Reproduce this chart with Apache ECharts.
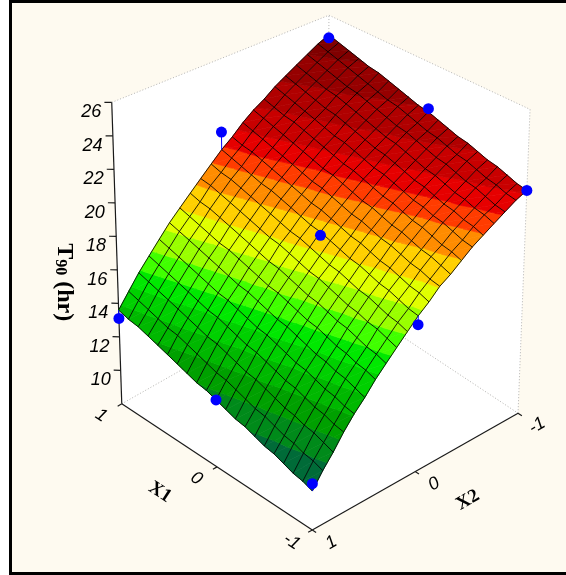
<!DOCTYPE html>
<html>
<head>
<meta charset="utf-8">
<title>T90 response surface</title>
<script src="https://cdn.jsdelivr.net/npm/echarts@6.0.0/dist/echarts.min.js"></script>
<style>
  html, body { margin: 0; padding: 0; background: #ffffff; }
  #chart { width: 566px; height: 575px; }
</style>
</head>
<body>
<div id="chart"></div>
<script>
// coded factor levels of the fitted surface grid
const x1Levels = [-1, -0.9, -0.8, -0.7, -0.6, -0.5, -0.4, -0.3, -0.2, -0.1, 0, 0.1, 0.2, 0.3, 0.4, 0.5, 0.6, 0.7, 0.8, 0.9, 1];
const x2Levels = [-1, -0.9, -0.8, -0.7, -0.6, -0.5, -0.4, -0.3, -0.2, -0.1, 0, 0.1, 0.2, 0.3, 0.4, 0.5, 0.6, 0.7, 0.8, 0.9, 1];

// fitted T90 (hr): one row per x1 level, columns follow x2Levels
const t90Surface = [
  [21.2, 20.9, 20.5, 20.1, 19.7, 19.3, 18.8, 18.3, 17.9, 17.3, 16.8, 16.2, 15.6, 15.0, 14.4, 13.7, 13.1, 12.4, 11.6, 10.9, 10.1],
  [21.3, 21.0, 20.6, 20.3, 19.9, 19.4, 19.0, 18.5, 18.0, 17.5, 16.9, 16.4, 15.8, 15.2, 14.6, 13.9, 13.2, 12.5, 11.8, 11.1, 10.3],
  [21.5, 21.2, 20.8, 20.4, 20.0, 19.6, 19.1, 18.7, 18.2, 17.6, 17.1, 16.5, 16.0, 15.3, 14.7, 14.1, 13.4, 12.7, 12.0, 11.2, 10.4],
  [21.7, 21.3, 21.0, 20.6, 20.2, 19.8, 19.3, 18.8, 18.3, 17.8, 17.3, 16.7, 16.1, 15.5, 14.9, 14.2, 13.5, 12.8, 12.1, 11.4, 10.6],
  [21.8, 21.5, 21.1, 20.7, 20.3, 19.9, 19.5, 19.0, 18.5, 18.0, 17.4, 16.9, 16.3, 15.7, 15.0, 14.4, 13.7, 13.0, 12.3, 11.5, 10.8],
  [22.0, 21.7, 21.3, 20.9, 20.5, 20.1, 19.6, 19.2, 18.7, 18.1, 17.6, 17.0, 16.4, 15.8, 15.2, 14.5, 13.9, 13.2, 12.4, 11.7, 10.9],
  [22.2, 21.8, 21.5, 21.1, 20.7, 20.2, 19.8, 19.3, 18.8, 18.3, 17.8, 17.2, 16.6, 16.0, 15.4, 14.7, 14.0, 13.3, 12.6, 11.9, 11.1],
  [22.3, 22.0, 21.6, 21.2, 20.8, 20.4, 20.0, 19.5, 19.0, 18.5, 17.9, 17.4, 16.8, 16.2, 15.5, 14.9, 14.2, 13.5, 12.8, 12.0, 11.3],
  [22.5, 22.2, 21.8, 21.4, 21.0, 20.6, 20.1, 19.7, 19.2, 18.6, 18.1, 17.5, 17.0, 16.3, 15.7, 15.1, 14.4, 13.7, 13.0, 12.2, 11.4],
  [22.7, 22.3, 22.0, 21.6, 21.2, 20.8, 20.3, 19.8, 19.3, 18.8, 18.3, 17.7, 17.1, 16.5, 15.9, 15.2, 14.6, 13.9, 13.1, 12.4, 11.6],
  [22.9, 22.5, 22.2, 21.8, 21.4, 20.9, 20.5, 20.0, 19.5, 19.0, 18.5, 17.9, 17.3, 16.7, 16.1, 15.4, 14.7, 14.0, 13.3, 12.6, 11.8],
  [23.0, 22.7, 22.3, 21.9, 21.5, 21.1, 20.7, 20.2, 19.7, 19.2, 18.6, 18.1, 17.5, 16.9, 16.2, 15.6, 14.9, 14.2, 13.5, 12.7, 12.0],
  [23.2, 22.9, 22.5, 22.1, 21.7, 21.3, 20.8, 20.4, 19.9, 19.3, 18.8, 18.2, 17.7, 17.0, 16.4, 15.8, 15.1, 14.4, 13.7, 12.9, 12.1],
  [23.4, 23.0, 22.7, 22.3, 21.9, 21.5, 21.0, 20.5, 20.0, 19.5, 19.0, 18.4, 17.8, 17.2, 16.6, 15.9, 15.3, 14.6, 13.8, 13.1, 12.3],
  [23.6, 23.2, 22.9, 22.5, 22.1, 21.6, 21.2, 20.7, 20.2, 19.7, 19.2, 18.6, 18.0, 17.4, 16.8, 16.1, 15.4, 14.7, 14.0, 13.3, 12.5],
  [23.8, 23.4, 23.1, 22.7, 22.3, 21.8, 21.4, 20.9, 20.4, 19.9, 19.4, 18.8, 18.2, 17.6, 17.0, 16.3, 15.6, 14.9, 14.2, 13.5, 12.7],
  [23.9, 23.6, 23.2, 22.9, 22.4, 22.0, 21.6, 21.1, 20.6, 20.1, 19.5, 19.0, 18.4, 17.8, 17.1, 16.5, 15.8, 15.1, 14.4, 13.6, 12.9],
  [24.1, 23.8, 23.4, 23.0, 22.6, 22.2, 21.8, 21.3, 20.8, 20.3, 19.7, 19.2, 18.6, 18.0, 17.3, 16.7, 16.0, 15.3, 14.6, 13.8, 13.1],
  [24.3, 24.0, 23.6, 23.2, 22.8, 22.4, 21.9, 21.5, 21.0, 20.5, 19.9, 19.4, 18.8, 18.2, 17.5, 16.9, 16.2, 15.5, 14.8, 14.0, 13.3],
  [24.5, 24.2, 23.8, 23.4, 23.0, 22.6, 22.1, 21.7, 21.2, 20.6, 20.1, 19.5, 19.0, 18.3, 17.7, 17.1, 16.4, 15.7, 15.0, 14.2, 13.4],
  [24.7, 24.4, 24.0, 23.6, 23.2, 22.8, 22.3, 21.9, 21.4, 20.8, 20.3, 19.7, 19.1, 18.5, 17.9, 17.3, 16.6, 15.9, 15.2, 14.4, 13.6]
];

// measured design points
const designX1 = [-1, 0, 1, -1, 0, 1, -1, 0, 1];
const designX2 = [1, 1, 1, 0, 0, 0, -1, -1, -1];
const t90Measured = [10.5, 11.8, 13.1, 16.3, 18.3, 21.4, 21.2, 23.1, 24.5];

const zTicks = [10, 12, 14, 16, 18, 20, 22, 24, 26];
const x1Ticks = [-1, 0, 1];
const x2Ticks = [-1, 0, 1];

// contour levels and their fill colours
const levelBreaks = [11.2, 12.1, 13.0, 13.8, 14.6, 15.3, 16.1, 17.0, 17.85, 18.85, 19.75, 20.4, 21.1, 22.0, 23.0, 24.0];
const levelColors = ['#006b38', '#008a1a', '#00a000', '#00b800', '#00d000', '#00e800', '#40ff00', '#99ff00',
  '#e0ff00', '#ffd000', '#ff8c00', '#ff3c00', '#e60000', '#c80000', '#b00000', '#960000', '#800000'];

// view: azimuth of the box and the floor / ceiling planes of the projection
const view = {
  azimuth: 47.2,
  zMin: 8,
  zMax: 26,
  floor: { cx: 319.9, cy: 408.5, scale: 140.2, tilt: 37.8 },
  top: { cx: 320.9, cy: 105.9, scale: 148.0, tilt: 25.7 }
};

const rad = Math.PI / 180;
const cosB = Math.cos(view.azimuth * rad);
const sinB = Math.sin(view.azimuth * rad);

function planeAt(plane, x1, x2) {
  const lean = Math.sin(plane.tilt * rad);
  return [
    plane.cx - plane.scale * (x1 * cosB + x2 * sinB),
    plane.cy + plane.scale * lean * (x2 * cosB - x1 * sinB)
  ];
}

function project(x1, x2, z) {
  const t = (z - view.zMin) / (view.zMax - view.zMin);
  const a = planeAt(view.floor, x1, x2);
  const b = planeAt(view.top, x1, x2);
  return [a[0] + (b[0] - a[0]) * t, a[1] + (b[1] - a[1]) * t];
}

function depthOf(x1, x2) {
  return x2 * cosB - x1 * sinB;
}

function clipAt(poly, level, keepAbove) {
  const out = [];
  for (let k = 0; k < poly.length; k++) {
    const a = poly[k];
    const b = poly[(k + 1) % poly.length];
    const inA = keepAbove ? a[2] >= level : a[2] <= level;
    const inB = keepAbove ? b[2] >= level : b[2] <= level;
    if (inA) out.push(a);
    if (inA !== inB) {
      const s = (level - a[2]) / (b[2] - a[2]);
      out.push([a[0] + (b[0] - a[0]) * s, a[1] + (b[1] - a[1]) * s, level]);
    }
  }
  return out;
}

function bandPieces(tri) {
  const zs = tri.map(p => p[2]);
  const lo = Math.min.apply(null, zs);
  const hi = Math.max.apply(null, zs);
  const pieces = [];
  for (let k = 0; k < levelColors.length; k++) {
    const from = k === 0 ? -Infinity : levelBreaks[k - 1];
    const to = k === levelBreaks.length ? Infinity : levelBreaks[k];
    if (hi < from || lo > to) continue;
    let poly = tri;
    if (from > -Infinity) poly = clipAt(poly, from, true);
    if (poly.length >= 3 && to < Infinity) poly = clipAt(poly, to, false);
    if (poly.length >= 3) pieces.push({ poly, color: levelColors[k] });
  }
  return pieces;
}

const cells = [];
for (let i = 0; i < x1Levels.length - 1; i++) {
  for (let j = 0; j < x2Levels.length - 1; j++) {
    const d = depthOf((x1Levels[i] + x1Levels[i + 1]) / 2, (x2Levels[j] + x2Levels[j + 1]) / 2);
    cells.push([i, j, d]);
  }
}
cells.sort((a, b) => a[2] - b[2]);

const meshLines = [];
x1Levels.forEach((v, i) => meshLines.push([0, i]));
x2Levels.forEach((v, j) => meshLines.push([1, j]));

const labelFont = 'italic 18px "Liberation Sans", Arial, sans-serif';
const titleFont = 'bold 19px "Liberation Serif", "Times New Roman", serif';

function renderFrame(params, api) {
  const pt = (a, b, c) => api.coord(project(a, b, c));
  const lo = view.zMin, hi = view.zMax;
  const xa = x1Ticks[0], xb = x1Ticks[x1Ticks.length - 1];
  const ya = x2Ticks[0], yb = x2Ticks[x2Ticks.length - 1];
  const wall = pts => ({
    type: 'polygon',
    shape: { points: pts.map(p => pt(p[0], p[1], p[2])) },
    style: { fill: '#ffffff' }
  });
  const edge = (p, q, solid) => {
    const a = pt(p[0], p[1], p[2]);
    const b = pt(q[0], q[1], q[2]);
    return {
      type: 'line',
      shape: { x1: a[0], y1: a[1], x2: b[0], y2: b[1] },
      style: solid ? { stroke: '#1a1a1a', lineWidth: 1.2 } : { stroke: '#b4b4b4', lineWidth: 1, lineDash: [1, 2] }
    };
  };
  const L = [xb, yb], F = [xa, yb], R = [xa, ya], B = [xb, ya];
  const children = [
    wall([[L[0], L[1], lo], [F[0], F[1], lo], [R[0], R[1], lo], [B[0], B[1], lo]]),
    wall([[L[0], L[1], lo], [B[0], B[1], lo], [B[0], B[1], hi], [L[0], L[1], hi]]),
    wall([[B[0], B[1], lo], [R[0], R[1], lo], [R[0], R[1], hi], [B[0], B[1], hi]]),
    edge([L[0], L[1], lo], [B[0], B[1], lo]),
    edge([B[0], B[1], lo], [R[0], R[1], lo]),
    edge([L[0], L[1], hi], [B[0], B[1], hi]),
    edge([B[0], B[1], hi], [R[0], R[1], hi]),
    edge([B[0], B[1], lo], [B[0], B[1], hi]),
    edge([R[0], R[1], lo], [R[0], R[1], hi]),
    edge([L[0], L[1], lo], [L[0], L[1], hi], true),
    edge([L[0], L[1], lo], [F[0], F[1], lo], true),
    edge([F[0], F[1], lo], [R[0], R[1], lo], true)
  ];
  zTicks.forEach(z => {
    children.push(edge([xb, yb, z], [xb + 0.035, yb + 0.035, z], true));
    const p = pt(xb + 0.05, yb + 0.05, z);
    children.push({ type: 'text', x: p[0], y: p[1] + 1,
      style: { text: String(z), font: labelFont, fill: '#000', align: 'right', verticalAlign: 'top' } });
  });
  x1Ticks.forEach(v => {
    children.push(edge([v, yb, lo], [v, yb + 0.04, lo], true));
    const p = pt(v, yb + 0.2, lo);
    children.push({ type: 'text', x: p[0], y: p[1], rotation: -33 * rad,
      style: { text: String(v), font: labelFont, fill: '#000', align: 'center', verticalAlign: 'middle' } });
  });
  x2Ticks.forEach(v => {
    children.push(edge([xa, v, lo], [xa - 0.04, v, lo], true));
    const p = pt(xa - 0.2, v, lo);
    children.push({ type: 'text', x: p[0], y: p[1], rotation: 30 * rad,
      style: { text: String(v), font: labelFont, fill: '#000', align: 'center', verticalAlign: 'middle' } });
  });
  const t1 = pt(0.06, yb + 0.5, lo);
  children.push({ type: 'text', x: t1[0], y: t1[1], rotation: -33 * rad,
    style: { text: 'X1', font: titleFont, fill: '#000', align: 'center', verticalAlign: 'middle' } });
  const t2 = pt(xa - 0.5, -0.05, lo);
  children.push({ type: 'text', x: t2[0], y: t2[1], rotation: 30 * rad,
    style: { text: 'X2', font: titleFont, fill: '#000', align: 'center', verticalAlign: 'middle' } });
  const tz = pt(xb + 0.264, yb + 0.264, 15.2);
  children.push({ type: 'text', x: tz[0], y: tz[1], rotation: -90 * rad,
    style: {
      text: '{a|T}{b|90}{a| (hr)}', fill: '#000', align: 'center', verticalAlign: 'middle',
      rich: {
        a: { font: 'bold 24px "Liberation Serif", "Times New Roman", serif', fill: '#000' },
        b: { font: 'bold 16px "Liberation Serif", "Times New Roman", serif', fill: '#000', verticalAlign: 'bottom', padding: [9, 0, 0, 0] }
      }
    } });
  return { type: 'group', children };
}

function nodeAt(i, j) {
  return [x1Levels[i], x2Levels[j], t90Surface[i][j]];
}

function renderCell(params, api) {
  const i = api.value(0), j = api.value(1);
  const p00 = nodeAt(i, j), p10 = nodeAt(i + 1, j), p11 = nodeAt(i + 1, j + 1), p01 = nodeAt(i, j + 1);
  const children = [];
  [[p00, p10, p11], [p00, p11, p01]].forEach(tri => {
    bandPieces(tri).forEach(piece => {
      children.push({
        type: 'polygon',
        shape: { points: piece.poly.map(p => api.coord(project(p[0], p[1], p[2]))) },
        style: { fill: piece.color, stroke: piece.color, lineWidth: 0.7 }
      });
    });
  });
  return { type: 'group', children };
}

function renderMesh(params, api) {
  const kind = api.value(0), idx = api.value(1);
  const pts = [];
  if (kind === 0) {
    x2Levels.forEach((v, j) => pts.push(api.coord(project(x1Levels[idx], v, t90Surface[idx][j]))));
  } else {
    x1Levels.forEach((v, i) => pts.push(api.coord(project(v, x2Levels[idx], t90Surface[i][idx]))));
  }
  return { type: 'polyline', shape: { points: pts }, style: { stroke: '#000', lineWidth: 1, opacity: 0.85, fill: null } };
}

function renderPoint(params, api) {
  const k = api.value(0);
  const x1 = designX1[k], x2 = designX2[k];
  const fit = t90Surface[x1Levels.indexOf(x1)][x2Levels.indexOf(x2)];
  const a = api.coord(project(x1, x2, fit));
  const b = api.coord(project(x1, x2, t90Measured[k]));
  return {
    type: 'group',
    children: [
      { type: 'line', shape: { x1: a[0], y1: a[1], x2: b[0], y2: b[1] }, style: { stroke: '#0000ff', lineWidth: 1 } },
      { type: 'circle', shape: { cx: b[0], cy: b[1], r: 5.5 }, style: { fill: '#0000ff' } }
    ]
  };
}

const chart = echarts.init(document.getElementById('chart'), null, { renderer: 'canvas' });
chart.setOption({
  backgroundColor: '#fefaf0',
  animation: false,
  graphic: [
    { type: 'rect', shape: { x: 0, y: 0, width: 9, height: 575 }, style: { fill: '#ffffff' }, z: 0 },
    { type: 'rect', shape: { x: 10.5, y: 1.5, width: 600, height: 572 }, style: { fill: null, stroke: '#000', lineWidth: 3 }, z: 0 }
  ],
  grid: { left: 0, right: 0, top: 0, bottom: 0 },
  xAxis: { type: 'value', min: 0, max: 566, show: false },
  yAxis: { type: 'value', min: 0, max: 575, inverse: true, show: false },
  series: [
    { type: 'custom', name: 'frame', renderItem: renderFrame, data: [[0, 0]], silent: true },
    { type: 'custom', name: 'surface', renderItem: renderCell, data: cells, silent: true },
    { type: 'custom', name: 'mesh', renderItem: renderMesh, data: meshLines, silent: true },
    { type: 'custom', name: 'T90 measured', renderItem: renderPoint, data: designX1.map((v, k) => [k]), silent: true }
  ]
});
</script>
</body>
</html>
